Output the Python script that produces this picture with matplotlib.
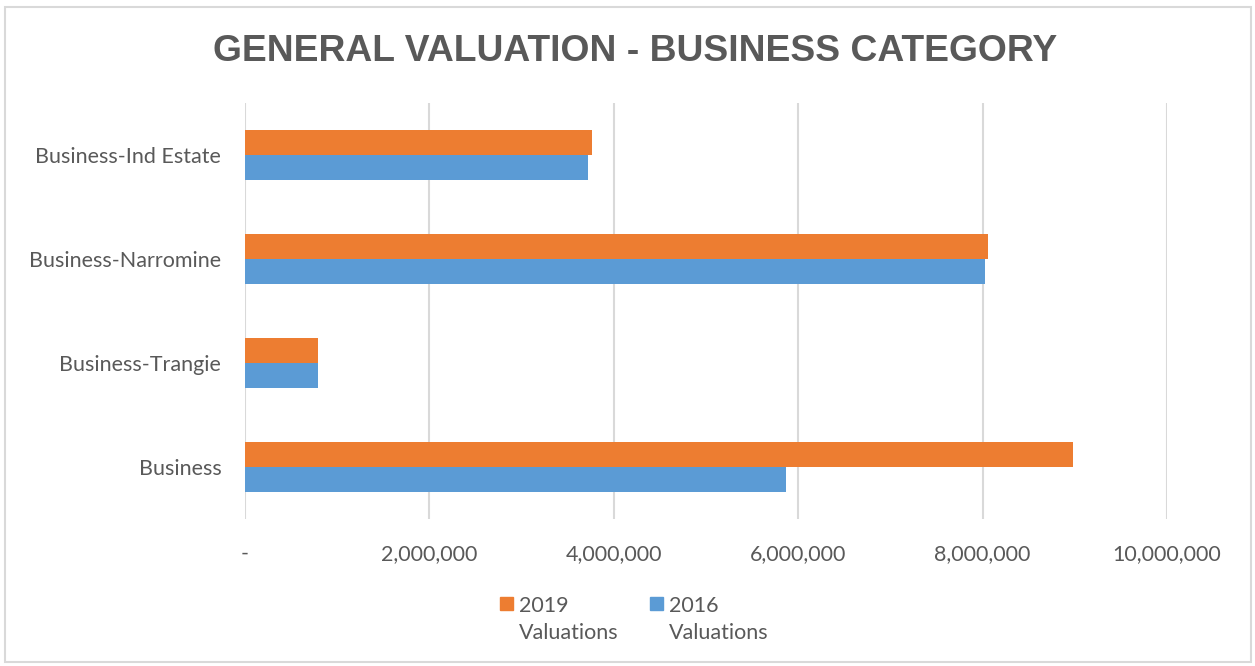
import matplotlib
matplotlib.use("Agg")
import matplotlib.pyplot as plt
from matplotlib.patches import Rectangle
from matplotlib.legend_handler import HandlerPatch
from matplotlib.ticker import FuncFormatter

categories = ["Business", "Business-Trangie", "Business-Narromine", "Business-Ind Estate"]
val_2016 = [5870000, 790000, 8030000, 3720000]
val_2019 = [8980000, 790000, 8060000, 3760000]
series_names = ["2019\nValuations", "2016\nValuations"]
title = "GENERAL VALUATION - BUSINESS CATEGORY"
xticks = [0, 2000000, 4000000, 6000000, 8000000, 10000000]

ORANGE = "#ED7D31"
BLUE = "#5B9BD5"
GREY = "#595959"
GRID = "#D9D9D9"

plt.rcParams["font.family"] = ["Lato", "DejaVu Sans"]

fig = plt.figure(figsize=(12.55, 6.66), dpi=100)
ax = fig.add_axes([0.1952, 0.2207, 0.9299 - 0.1952, 0.8453 - 0.2207])

y = list(range(len(categories)))
h = 0.24
ax.barh([v - h / 2 for v in y], val_2016, height=h, color=BLUE, zorder=3)
ax.barh([v + h / 2 for v in y], val_2019, height=h, color=ORANGE, zorder=3)

ax.set_xlim(0, 10000000)
ax.set_ylim(-0.5, len(categories) - 0.5)
ax.set_yticks(y)
ax.set_yticklabels(categories)
ax.set_xticks(xticks)
ax.xaxis.set_major_formatter(FuncFormatter(lambda v, p: "-" if v == 0 else f"{int(v):,}"))
ax.grid(axis="x", color=GRID, linewidth=1.5, zorder=0)
for s in ax.spines.values():
    s.set_visible(False)
ax.tick_params(axis="both", length=0, labelsize=15.5, labelcolor=GREY)
ax.tick_params(axis="y", pad=17)
ax.tick_params(axis="x", pad=18)

fig.text(0.506, 0.923, title, ha="center", va="center", fontsize=26.8, fontweight="bold",
         color=GREY, family=["Liberation Sans", "DejaVu Sans"])

def make_sq(legend, orig_handle, xdescent, ydescent, width, height, fontsize):
    s = fontsize * 0.6
    return Rectangle((-xdescent, height + fontsize * 0.12 - ydescent), s, s)

proxies = [Rectangle((0, 0), 1, 1, color=ORANGE), Rectangle((0, 0), 1, 1, color=BLUE)]
leg = fig.legend(proxies, series_names, loc="center", bbox_to_anchor=(0.5056, 0.07), ncol=2,
                 frameon=False, fontsize=15.5, handlelength=0.8, handletextpad=0.1, columnspacing=1.44,
                 handler_map={Rectangle: HandlerPatch(patch_func=make_sq)})
for t in leg.get_texts():
    t.set_color(GREY)
    t.set_linespacing(1.45)

fig.patches.append(Rectangle((0.004, 0.006), 0.993, 0.984, transform=fig.transFigure,
                             fill=False, edgecolor=GRID, linewidth=1.5))

fig.savefig("out.png", dpi=100)
